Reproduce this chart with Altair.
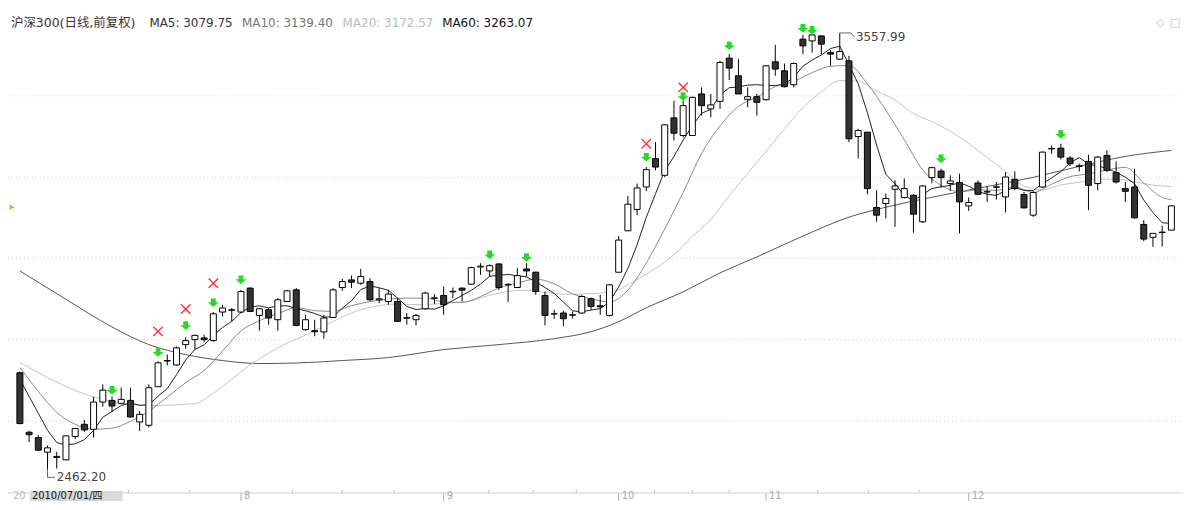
import altair as alt
import pandas as pd

# ---------------- data ----------------
opens = [2704.8, 2555.5, 2542.3, 2505.5, 2492.3, 2486.3, 2544.8, 2575.5, 2563.0, 2631.3,
         2635.5, 2628.0, 2635.5, 2581.3, 2573.0, 2669.8, 2734.3, 2724.3, 2775.5, 2788.0,
         2792.3, 2785.5, 2857.3, 2861.8, 2857.3, 2917.3, 2848.8, 2863.0, 2838.0, 2883.8,
         2913.0, 2813.0, 2810.5, 2807.3, 2843.8, 2918.8, 2938.0, 2929.8, 2933.8, 2888.0,
         2883.8, 2883.8, 2843.0, 2838.0, 2865.5, 2891.8, 2898.8, 2908.0, 2917.3, 2927.3,
         2970.5, 2960.5, 2978.0, 2925.5, 2918.8, 2965.5, 2957.3, 2898.8, 2852.3, 2854.8,
         2849.3, 2854.8, 2890.5, 2873.0, 2848.8, 2957.3, 3061.3, 3114.8, 3171.3, 3242.3,
         3200.5, 3344.8, 3300.5, 3300.5, 3404.8, 3367.3, 3386.3, 3494.8, 3450.5, 3391.3,
         3398.0, 3390.5, 3485.5, 3463.0, 3428.0, 3542.3, 3538.0, 3550.5, 3508.8, 3492.3,
         3488.0, 3298.0, 3308.8, 3119.8, 3129.8, 3165.5, 3144.8, 3150.5, 3083.8, 3194.8,
         3211.3, 3179.8, 3182.3, 3123.8, 3181.3, 3158.8, 3170.5, 3146.3, 3190.5, 3152.3,
         3100.5, 3171.3, 3266.8, 3268.8, 3243.8, 3224.3, 3235.5, 3179.8, 3250.5, 3207.3,
         3167.3, 3171.3, 3077.3, 3044.8, 3056.8, 3063.0]
highs = [2708.0, 2559.3, 2548.0, 2522.3, 2506.3, 2548.0, 2566.3, 2586.3, 2644.8, 2675.5,
         2645.5, 2668.0, 2667.3, 2608.8, 2675.5, 2733.8, 2750.5, 2770.5, 2793.8, 2800.5,
         2800.5, 2857.3, 2875.5, 2867.3, 2913.0, 2919.8, 2867.3, 2867.3, 2892.3, 2913.0,
         2917.3, 2850.5, 2838.0, 2850.5, 2917.3, 2940.5, 2948.8, 2965.5, 2942.3, 2917.3,
         2913.0, 2892.3, 2854.8, 2852.3, 2908.8, 2902.3, 2921.3, 2918.8, 2918.8, 2971.3,
         2979.8, 2977.3, 2979.8, 2929.8, 2967.3, 2979.8, 2958.8, 2908.8, 2863.0, 2860.5,
         2858.8, 2900.5, 2893.8, 2900.5, 2927.3, 3048.0, 3148.8, 3179.8, 3221.3, 3283.8,
         3328.0, 3388.0, 3388.0, 3398.0, 3421.3, 3404.8, 3488.0, 3504.8, 3492.3, 3421.3,
         3404.8, 3477.3, 3528.0, 3481.3, 3483.8, 3553.0, 3554.3, 3551.5, 3514.8, 3557.99,
         3500.5, 3317.3, 3310.0, 3163.0, 3154.8, 3188.0, 3192.3, 3153.0, 3175.5, 3221.3,
         3217.3, 3200.5, 3204.8, 3144.8, 3188.0, 3173.0, 3183.8, 3208.8, 3210.5, 3158.8,
         3160.5, 3260.5, 3275.5, 3279.8, 3248.8, 3229.8, 3252.3, 3248.8, 3263.0, 3235.5,
         3183.8, 3217.3, 3088.0, 3055.5, 3073.8, 3125.5]
lows = [2575.5, 2530.5, 2508.0, 2462.2, 2464.3, 2485.5, 2538.0, 2556.3, 2542.3, 2619.8,
        2605.5, 2625.5, 2592.3, 2558.8, 2567.3, 2669.8, 2723.0, 2723.0, 2764.8, 2763.0,
        2781.3, 2782.3, 2846.3, 2833.8, 2854.8, 2858.0, 2810.5, 2825.5, 2810.5, 2883.0,
        2821.3, 2810.5, 2796.3, 2790.5, 2842.3, 2910.5, 2917.3, 2925.5, 2885.5, 2879.8,
        2875.5, 2832.3, 2825.5, 2823.8, 2863.0, 2877.3, 2850.5, 2892.3, 2883.8, 2925.5,
        2950.5, 2946.3, 2913.0, 2882.3, 2917.3, 2946.3, 2900.5, 2823.8, 2840.5, 2821.3,
        2840.5, 2852.3, 2863.0, 2850.5, 2846.3, 2955.5, 3060.5, 3100.5, 3161.3, 3213.0,
        3196.3, 3288.0, 3296.3, 3300.5, 3350.5, 3346.3, 3367.3, 3439.8, 3404.8, 3371.3,
        3350.5, 3388.0, 3450.5, 3421.3, 3421.3, 3504.8, 3508.8, 3504.8, 3475.5, 3489.8,
        3283.8, 3242.3, 3153.0, 3083.8, 3092.3, 3071.3, 3142.3, 3056.3, 3081.3, 3180.5,
        3169.8, 3161.3, 3054.8, 3111.3, 3150.5, 3133.8, 3139.8, 3107.3, 3163.0, 3117.3,
        3096.3, 3168.8, 3254.8, 3240.5, 3223.8, 3210.5, 3113.0, 3163.0, 3208.8, 3179.8,
        3133.8, 3092.3, 3035.5, 3021.3, 3021.3, 3063.0]
closes = [2577.3, 2549.3, 2510.5, 2516.3, 2494.8, 2546.3, 2564.8, 2561.3, 2631.3, 2661.3,
          2621.3, 2638.0, 2593.8, 2600.5, 2667.3, 2729.8, 2735.5, 2767.3, 2785.5, 2798.8,
          2788.0, 2853.0, 2867.3, 2863.0, 2908.8, 2858.8, 2865.5, 2842.3, 2888.0, 2910.5,
          2823.8, 2838.0, 2808.0, 2842.3, 2913.0, 2933.8, 2932.3, 2946.3, 2888.0, 2890.5,
          2902.3, 2833.8, 2841.8, 2848.8, 2904.8, 2893.0, 2875.5, 2909.3, 2912.3, 2968.8,
          2972.3, 2973.8, 2918.8, 2926.8, 2948.8, 2960.5, 2908.8, 2848.8, 2853.0, 2840.5,
          2850.5, 2896.3, 2871.3, 2870.5, 2925.5, 3038.0, 3128.0, 3168.8, 3214.8, 3221.3,
          3327.3, 3306.3, 3375.5, 3396.3, 3375.5, 3377.3, 3483.8, 3469.8, 3404.8, 3398.0,
          3383.8, 3475.5, 3467.3, 3423.0, 3481.3, 3525.5, 3553.0, 3529.8, 3504.8, 3511.3,
          3292.3, 3313.0, 3167.3, 3100.5, 3142.3, 3173.8, 3167.3, 3103.0, 3173.8, 3219.8,
          3194.8, 3186.3, 3133.8, 3132.3, 3153.0, 3159.3, 3171.8, 3196.3, 3167.3, 3118.8,
          3157.3, 3258.8, 3268.0, 3246.3, 3229.8, 3223.0, 3175.5, 3246.3, 3213.0, 3183.8,
          3160.5, 3093.8, 3040.5, 3054.8, 3058.0, 3123.8]

ma5 = [2688.0, 2645.5, 2603.0, 2560.5, 2529.5, 2523.5, 2526.5, 2536.8, 2559.8, 2593.0,
       2608.0, 2622.5, 2629.0, 2623.0, 2624.3, 2645.8, 2665.3, 2700.0, 2737.0, 2763.3,
       2775.0, 2798.5, 2818.5, 2834.0, 2856.0, 2870.3, 2872.8, 2867.8, 2872.8, 2873.0,
       2866.0, 2860.5, 2853.8, 2844.5, 2845.0, 2867.0, 2885.8, 2913.5, 2922.8, 2918.3,
       2911.8, 2892.3, 2871.3, 2863.5, 2866.3, 2864.5, 2872.8, 2886.3, 2899.0, 2911.8,
       2927.5, 2947.3, 2949.3, 2952.0, 2948.0, 2945.8, 2932.8, 2918.8, 2904.0, 2882.3,
       2860.3, 2857.8, 2862.3, 2865.8, 2882.8, 2920.3, 2966.8, 3026.3, 3095.0, 3154.3,
       3212.0, 3247.8, 3289.0, 3325.3, 3356.3, 3366.3, 3401.8, 3420.5, 3422.3, 3426.8,
       3428.0, 3426.3, 3425.8, 3429.5, 3446.3, 3474.5, 3490.0, 3502.5, 3518.8, 3524.8,
       3478.3, 3430.3, 3357.8, 3276.8, 3203.0, 3179.3, 3150.3, 3137.3, 3152.0, 3167.5,
       3171.8, 3175.5, 3181.8, 3173.3, 3160.0, 3153.0, 3150.0, 3162.5, 3169.5, 3162.8,
       3162.3, 3179.8, 3194.0, 3209.8, 3232.0, 3245.3, 3228.5, 3224.3, 3217.5, 3208.3,
       3195.8, 3179.5, 3138.3, 3106.8, 3081.5, 3079.75]

ma10_idx = list(range(0, 125, 2)) + [125]
ma10 = [2718.0, 2658.0, 2605.5, 2575.5, 2563.0, 2565.8, 2582.8, 2608.5, 2644.0, 2680.0,
        2710.5, 2759.3, 2809.8, 2835.5, 2853.3, 2868.0, 2860.8, 2859.0, 2873.3, 2883.5,
        2889.5, 2892.3, 2892.3, 2882.5, 2881.3, 2896.0, 2917.8, 2930.0, 2940.0, 2928.0,
        2903.0, 2890.5, 2882.5, 2912.3, 2980.5, 3066.3, 3157.5, 3255.3, 3324.8, 3373.8,
        3397.0, 3423.3, 3436.5, 3458.3, 3474.3, 3476.3, 3430.0, 3364.0, 3290.3, 3214.5,
        3175.5, 3159.5, 3163.8, 3162.8, 3171.5, 3157.5, 3178.3, 3197.3, 3204.0, 3213.8,
        3220.5, 3181.3, 3145.0, 3139.40]

ma20_idx = [0, 3, 6, 9, 12, 15, 17] + list(range(19, 126, 2))
ma20 = [2730.5, 2693.0, 2660.5, 2638.0, 2625.5, 2623.0, 2624.3,
        2627.5, 2653.3, 2688.3, 2724.8, 2753.8, 2779.0, 2799.3, 2822.0, 2844.5, 2863.3,
        2873.0, 2877.8, 2875.8, 2877.3, 2881.0, 2885.3, 2899.5, 2909.3, 2912.3, 2906.3,
        2902.0, 2902.5, 2905.0, 2913.5, 2939.0, 2966.8, 3001.3, 3047.5, 3089.5, 3149.5,
        3205.0, 3260.5, 3318.0, 3370.0, 3409.5, 3438.5, 3437.0, 3411.8, 3390.0, 3355.8,
        3335.3, 3311.3, 3280.3, 3245.5, 3209.8, 3173.3, 3163.8, 3176.3, 3183.0, 3190.5,
        3190.8, 3184.3, 3175.8, 3172.57]

ma60_idx = [0, 5, 10, 14, 18, 22, 26, 30, 35, 40, 46, 52, 58, 62, 65, 68, 72, 76, 80,
            85, 90, 94, 99, 104, 110, 115, 120, 125]
ma60 = [2960.5, 2889.3, 2819.8, 2775.5, 2750.5, 2735.5, 2728.0, 2729.3, 2735.5, 2743.0,
        2763.0, 2775.5, 2790.5, 2808.0, 2833.0, 2868.0, 2908.0, 2955.5, 2995.5, 3048.0,
        3095.5, 3120.5, 3145.5, 3168.0, 3195.5, 3223.0, 3248.0, 3263.07]

buy_idx = [10, 15, 18, 21, 24, 51, 55, 68, 72, 77, 85, 86, 100, 113]
buy_price = [2660.5, 2755.5, 2823.0, 2880.5, 2938.0, 3000.5, 2993.8, 3245.5, 3398.0,
             3525.5, 3569.3, 3564.3, 3241.8, 3303.0]
sell_idx = [15, 18, 21, 68, 72]
sell_price = [2808.8, 2864.8, 2929.8, 3279.8, 3421.3]

grid_prices = [3400, 3195, 2993, 2788, 2583]
month_idx = [24, 46, 65, 81, 103]
month_labels = ["8", "9", "10", "11", "12"]
minor_tick_idx = [11.8, 18.4, 29.6, 35.0, 40.6, 50.9, 55.7, 60.4, 68.9, 73.0, 77.0,
                  86.6, 92.1, 97.6]

title_text = "沪深300(日线,前复权)"
cursor_date = "2010/07/01/四"

# ---------------- chart ----------------
W, H = 1180, 494
FONT = "DejaVu Sans, Noto Sans CJK SC, sans-serif"
xs = alt.Scale(domain=[-0.75, 125.72], nice=False, zero=False)
ys = alt.Scale(domain=[2383, 3618], nice=False, zero=False)


def X(f="i"):
    return alt.X(f"{f}:Q", scale=xs, axis=None)


def Y(f="p"):
    return alt.Y(f"{f}:Q", scale=ys, axis=None)


one = pd.DataFrame({"a": [0]})
cdf = pd.DataFrame({"i": list(range(len(closes))), "o": opens, "h": highs,
                    "l": lows, "c": closes})

layers = []

# grid
layers.append(
    alt.Chart(pd.DataFrame({"p": grid_prices})).mark_rule(
        color="#d2d2d2", strokeDash=[1, 3], strokeWidth=1
    ).encode(y=Y("p"), x=alt.value(0), x2=alt.value(W))
)


# moving averages
def ma_layer(ix, vals, color, interp="linear"):
    d = pd.DataFrame({"i": ix, "p": vals})
    return alt.Chart(d).mark_line(color=color, strokeWidth=1, interpolate=interp).encode(
        x=X("i"), y=Y("p"))


layers.append(ma_layer(ma60_idx, ma60, "#555555", "monotone"))
layers.append(ma_layer(ma20_idx, ma20, "#c4c4c4", "monotone"))
layers.append(ma_layer(ma10_idx, ma10, "#8a8a8a", "monotone"))
layers.append(ma_layer(list(range(len(ma5))), ma5, "#222222"))

# candles
base = alt.Chart(cdf)
layers.append(base.mark_rule(color="#000000", strokeWidth=1).encode(
    x=X("i"), y=Y("l"), y2="h"))
layers.append(base.mark_bar(size=6, stroke="#000000", strokeWidth=1).encode(
    x=X("i"), y=Y("o"), y2="c",
    fill=alt.condition("datum.c >= datum.o", alt.value("#ffffff"), alt.value("#333333"))))

# signals
ARROW = "M-0.45,-0.8L0.45,-0.8L0.45,-0.1L1,-0.1L0,0.75L-1,-0.1L-0.45,-0.1Z"
layers.append(alt.Chart(pd.DataFrame({"i": buy_idx, "p": buy_price})).mark_point(
    shape=ARROW, filled=True, size=121, color="#22dd22", opacity=1).encode(x=X("i"), y=Y("p")))
layers.append(alt.Chart(pd.DataFrame({"i": sell_idx, "p": sell_price})).mark_point(
    shape="M-1,-1L1,1M-1,1L1,-1", filled=False, size=90, color="#ff3333",
    strokeWidth=1.4, opacity=1).encode(x=X("i"), y=Y("p")))

# high / low labels
hi_i = highs.index(max(highs))
hi = highs[hi_i]
lo_i = lows.index(min(lows))
lo = lows[lo_i]
hl = pd.DataFrame({"i": [hi_i, hi_i + 1.2, hi_i + 1.6], "p": [hi, hi, hi - 10], "o": [0, 1, 2]})
layers.append(alt.Chart(hl).mark_line(color="#666666", strokeWidth=1).encode(
    x=X("i"), y=Y("p"), order="o:O"))
layers.append(alt.Chart(pd.DataFrame({"i": [hi_i + 1.75], "p": [hi - 9], "t": [f"{hi:.2f}"]}))
              .mark_text(align="left", baseline="middle", font=FONT, fontSize=12, color="#444444")
              .encode(x=X("i"), y=Y("p"), text="t:N"))
ll = pd.DataFrame({"i": [lo_i, lo_i, lo_i + 0.8], "p": [lo, lo - 20, lo - 20], "o": [0, 1, 2]})
layers.append(alt.Chart(ll).mark_line(color="#666666", strokeWidth=1).encode(
    x=X("i"), y=Y("p"), order="o:O"))
layers.append(alt.Chart(pd.DataFrame({"i": [lo_i + 1.0], "p": [lo - 20], "t": [f"{lo:.2f}"]}))
              .mark_text(align="left", baseline="middle", font=FONT, fontSize=12, color="#444444")
              .encode(x=X("i"), y=Y("p"), text="t:N"))

# bottom axis
AX_Y = 486
LBL_Y = 489
layers.append(alt.Chart(one).mark_rule(color="#d0d0d0", strokeWidth=1).encode(
    x=alt.value(0), x2=alt.value(W), y=alt.value(AX_Y)))
layers.append(alt.Chart(pd.DataFrame({"i": minor_tick_idx})).mark_rule(
    color="#c0c0c0", strokeWidth=1).encode(x=X("i"), y=alt.value(AX_Y - 3), y2=alt.value(AX_Y)))
mdf = pd.DataFrame({"i": month_idx, "t": month_labels})
layers.append(alt.Chart(mdf).mark_rule(color="#b0b0b0", strokeWidth=1).encode(
    x=X("i"), y=alt.value(AX_Y), y2=alt.value(AX_Y + 8)))
layers.append(alt.Chart(mdf).mark_text(align="left", baseline="middle", dx=3, font=FONT,
                                       fontSize=10, color="#aaaaaa").encode(
    x=X("i"), y=alt.value(LBL_Y), text="t:N"))
layers.append(alt.Chart(one).mark_text(align="left", baseline="middle", font=FONT,
                                       fontSize=10, color="#bbbbbb", text="20").encode(
    x=alt.value(5), y=alt.value(LBL_Y)))
layers.append(alt.Chart(one).mark_rect(color="#d9d9d9").encode(
    x=alt.value(22), x2=alt.value(115), y=alt.value(AX_Y - 2), y2=alt.value(H)))
layers.append(alt.Chart(one).mark_text(align="left", baseline="middle", font=FONT,
                                       fontSize=10, color="#111111", text=cursor_date).encode(
    x=alt.value(24), y=alt.value(LBL_Y)))

# title / legend line
legend_items = [
    (title_text, "#333333", 3, 12.5),
    (f"MA5: {ma5[-1]:.2f}", "#333333", 142, 12),
    (f"MA10: {ma10[-1]:.2f}", "#777777", 235, 12),
    (f"MA20: {ma20[-1]:.2f}", "#bbbbbb", 336, 12),
    (f"MA60: {ma60[-1]:.2f}", "#111111", 436, 12),
]
for txt, col, px, fs in legend_items:
    layers.append(alt.Chart(one).mark_text(align="left", baseline="middle", font=FONT,
                                           fontSize=fs, color=col, text=txt).encode(
        x=alt.value(px), y=alt.value(14)))

# top-right icons and left marker
layers.append(alt.Chart(one).mark_text(align="left", baseline="middle", font=FONT,
                                       fontSize=11, color="#bbbbbb", text="◇").encode(
    x=alt.value(1153), y=alt.value(14)))
layers.append(alt.Chart(one).mark_text(align="left", baseline="middle", font=FONT,
                                       fontSize=11, color="#bbbbbb", text="□").encode(
    x=alt.value(1167), y=alt.value(14)))
layers.append(alt.Chart(one).mark_point(shape="triangle-right", filled=True, size=30,
                                        color="#f0a030", opacity=1).encode(
    x=alt.value(4), y=alt.value(199)))

chart = alt.layer(*layers).properties(
    width=W, height=H, padding=0, autosize=alt.AutoSizeParams(type="none")
).configure_view(strokeWidth=0)

chart.save("out.html", embed_options={"renderer": "svg", "actions": False})
